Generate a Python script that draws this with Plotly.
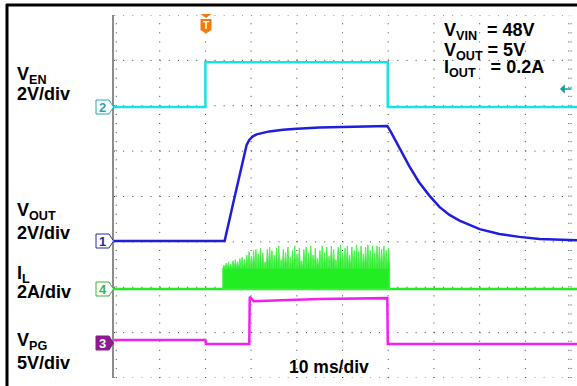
import plotly.graph_objects as go

# ---- scope settings (10 ms/div, trigger at t=0, 2 div from left) ----
t_left = -20.0
t_right = 81.3
ms_per_div = 10

# channel offsets in divisions from the bottom of the screen, and V/div (A/div)
ch_offset = {"EN": 5.97, "OUT": 3.02, "IL": 1.96, "PG": 0.80}
ch_scale = {"EN": 2.0, "OUT": 2.0, "IL": 2.0, "PG": 5.0}

# ---- waveforms ----
ven_t = [-20, 0, 0, 39.9, 39.9, 81.3]
ven_v = [0, 0, 1.98, 1.98, 0, 0]

vout_t = [-20, 4.2, 6, 8, 9.0, 9.6, 10.3, 11.2, 12.5, 14, 17, 20, 25, 30, 35, 39.8,
          40.6, 41.5, 42.5, 43.5, 44.6, 46.7, 49.0, 51.2, 53.4, 55.6, 60, 64.3, 68.7, 73.1, 79.6, 81.3]
vout_v = [0, 0, 1.6, 3.4, 4.22, 4.45, 4.6, 4.7, 4.77, 4.83, 4.9, 4.95, 5.0, 5.03, 5.05, 5.07,
          4.8, 4.45, 4.1, 3.7, 3.3, 2.6, 2.0, 1.5, 1.15, 0.9, 0.52, 0.31, 0.18, 0.09, 0.04, 0.03]

vpg_t = [-20, 0, 0.1, 9.6, 9.7, 10.6, 15, 25, 39.8, 39.9, 81.3]
vpg_v = [0.2, 0.2, -0.25, -0.25, 4.95, 4.45, 4.55, 4.7, 4.8, -0.25, -0.25]

# inductor current: switching bursts between 3.8 ms and ~40 ms
il_start = 3.8
il_period = 0.5
il_floor = 0.9
il_peaks = [1.05, 1.15, 1.2, 1.1, 1.25, 1.3, 1.2, 1.35, 1.4, 1.3,
            1.5, 1.65, 1.45, 1.7, 1.75, 1.55, 1.8, 1.6, 1.2, 1.75,
            1.85, 1.7, 1.5, 1.8, 1.9, 1.3, 1.75, 1.6, 1.85, 1.4,
            1.7, 1.9, 1.55, 1.8, 1.25, 1.75, 1.85, 1.6, 1.9, 1.5,
            1.8, 1.35, 1.7, 1.9, 1.6, 1.85, 1.45, 1.9, 1.75, 1.3,
            1.85, 1.95, 1.6, 1.8, 1.9, 1.5, 1.85, 1.7, 1.95, 1.65,
            1.9, 1.55, 1.85, 1.95, 1.7, 1.9, 1.6, 1.9, 1.85, 1.75,
            1.9, 1.7, 1.8]

col_en = "#18e2e6"
col_out = "#1e1edc"
col_il = "#22ec22"
col_pg = "#f020f0"


def to_div(vals, ch):
    return [ch_offset[ch] + v / ch_scale[ch] for v in vals]


# burst polygon
il_x = [il_start]
il_y = [0]
for i, pk in enumerate(il_peaks):
    t = il_start + i * il_period
    il_x += [t, t + il_period / 2]
    il_y += [il_floor, pk]
t_end = il_start + len(il_peaks) * il_period
il_x += [t_end, t_end, il_start]
il_y += [il_floor, 0, 0]

fig = go.Figure()

fig.add_trace(go.Scatter(x=ven_t, y=to_div(ven_v, "EN"), mode="lines",
                         line=dict(color=col_en, width=2.5)))
fig.add_trace(go.Scatter(x=[t_left, t_right], y=to_div([0, 0], "IL"), mode="lines",
                         line=dict(color=col_il, width=2.5)))
fig.add_trace(go.Scatter(x=il_x, y=to_div(il_y, "IL"), mode="lines", fill="toself",
                         fillcolor=col_il, line=dict(color="#4cf04c", width=1)))
fig.add_trace(go.Scatter(x=vout_t, y=to_div(vout_v, "OUT"), mode="lines",
                         line=dict(color=col_out, width=2.5)))
fig.add_trace(go.Scatter(x=vpg_t, y=to_div(vpg_v, "PG"), mode="lines",
                         line=dict(color=col_pg, width=2.5)))

# ---- pixel helpers (577x386 canvas, grid 114..571 x 15..378) ----
W, H = 577, 386
L, R, T, B = 114, 577, 15, 378


def px(p):
    return (p - L) / (R - L)


def py(p):
    return (B - p) / (B - T)


shapes = []
grid = dict(color="#404040", width=1)
for d in range(9):
    shapes.append(dict(type="line", xref="x", yref="y", x0=t_left, x1=80, y0=d, y1=d,
                       line=dict(grid, dash="1px,8.14px"), layer="below"))
for k in range(1, 11):
    tt = t_left + k * ms_per_div
    shapes.append(dict(type="line", xref="x", yref="y", x0=tt, x1=tt, y0=0, y1=8,
                       line=dict(grid, dash="1px,8.07px"), layer="below"))
# minor ticks beside the left and right edges
for tt in [t_left + 0.5, 79.5]:
    shapes.append(dict(type="line", xref="x", yref="y", x0=tt, x1=tt, y0=0, y1=8,
                       line=dict(grid, dash="1px,8.07px"), layer="below"))
# left edge of the screen
shapes.append(dict(type="line", xref="paper", yref="paper", x0=px(113), x1=px(113), y0=py(15), y1=py(378),
                   line=dict(color="#8c8c8c", width=2)))
# outer black frame
shapes.append(dict(type="line", xref="paper", yref="paper", x0=px(6), x1=px(577), y0=py(5), y1=py(5),
                   line=dict(color="black", width=3)))
shapes.append(dict(type="line", xref="paper", yref="paper", x0=px(7), x1=px(7), y0=py(4), y1=py(386),
                   line=dict(color="black", width=3)))


def pent(yc, line_col, fill_col):
    x0, x1, xt = px(96), px(109), px(113.5)
    y0, y1 = py(yc - 7), py(yc + 7)
    path = f"M {x0},{y0} L {x1},{y0} L {xt},{py(yc)} L {x1},{y1} L {x0},{y1} Z"
    return dict(type="path", xref="paper", yref="paper", path=path,
                line=dict(color=line_col, width=1), fillcolor=fill_col)


markers = [("2", 107, "#2aa8aa", "white", "#2aa8aa"),
           ("1", 241, "#2a2aa6", "white", "#2a2aa6"),
           ("4", 289, "#3cb43c", "white", "#3cb43c"),
           ("3", 343, "#8e1a8e", "#8e1a8e", "white")]
for lab, yc, lc, fc, tc in markers:
    shapes.append(pent(yc, lc, fc))

# trigger marker
tx = 206
shapes.append(dict(type="path", xref="paper", yref="paper",
                   path=f"M {px(tx-5.5)},{py(14)} L {px(tx+5.5)},{py(14)} L {px(tx)},{py(18)} Z",
                   line=dict(color="#f47a10", width=0), fillcolor="#f47a10"))
shapes.append(dict(type="path", xref="paper", yref="paper",
                   path=(f"M {px(tx-5.5)},{py(19)} L {px(tx+5.5)},{py(19)} L {px(tx+5.5)},{py(30)} "
                         f"L {px(tx)},{py(33.5)} L {px(tx-5.5)},{py(30)} Z"),
                   line=dict(color="#f47a10", width=0), fillcolor="#f47a10"))

font = "Liberation Sans, Arial, sans-serif"
ann = []
for lab, yc, lc, fc, tc in markers:
    ann.append(dict(xref="paper", yref="paper", x=px(102.5), y=py(yc), text=f"<b>{lab}</b>",
                    showarrow=False, xanchor="center", yanchor="middle",
                    font=dict(family=font, size=13, color=tc)))
ann.append(dict(xref="paper", yref="paper", x=px(tx), y=py(25.5), text="<b>T</b>", showarrow=False,
                xanchor="center", yanchor="middle", font=dict(family=font, size=10, color="white")))
# trigger level arrow
ann.append(dict(xref="paper", yref="paper", x=px(560), y=py(89), text="", showarrow=True,
                ax=13, ay=0, arrowhead=1, arrowsize=1, arrowwidth=1.6, arrowcolor="#1a9a9a"))

labels = [("V<sub>EN</sub>", 75), ("2V/div", 94),
          ("V<sub>OUT</sub>", 211), ("2V/div", 233),
          ("I<sub>L</sub>", 274), ("2A/div", 292),
          ("V<sub>PG</sub>", 341), ("5V/div", 363)]
for txt, yc in labels:
    ann.append(dict(xref="paper", yref="paper", x=px(15), y=py(yc), text=f"<b>{txt}</b>",
                    showarrow=False, xanchor="left", yanchor="middle",
                    font=dict(family=font, size=18, color="black")))

cond = [("V<sub>VIN</sub>&nbsp;&nbsp;= 48V", 31), ("V<sub>OUT</sub> = 5V", 51),
        ("I<sub>OUT</sub>&nbsp;&nbsp;&nbsp;= 0.2A", 68)]
for txt, yc in cond:
    ann.append(dict(xref="paper", yref="paper", x=px(442), y=py(yc), text=f"<b>{txt}</b>",
                    showarrow=False, xanchor="left", yanchor="middle",
                    font=dict(family=font, size=18, color="black")))

ann.append(dict(xref="paper", yref="paper", x=px(329), y=py(367), text="<b>10 ms/div</b>",
                showarrow=False, xanchor="center", yanchor="middle",
                font=dict(family=font, size=17.5, color="black")))

fig.update_layout(
    width=W, height=H,
    margin=dict(l=L, r=W - R, t=T, b=H - B),
    paper_bgcolor="white", plot_bgcolor="white",
    showlegend=False,
    shapes=shapes, annotations=ann,
    xaxis=dict(range=[t_left, t_right], visible=False, fixedrange=True),
    yaxis=dict(range=[0, 8], visible=False, fixedrange=True),
)

# page body has an 8px default margin; drop it so the figure sits at the corner
fig.write_html("out.html", config={"displayModeBar": False},
               post_script="document.body.style.margin='0';")
